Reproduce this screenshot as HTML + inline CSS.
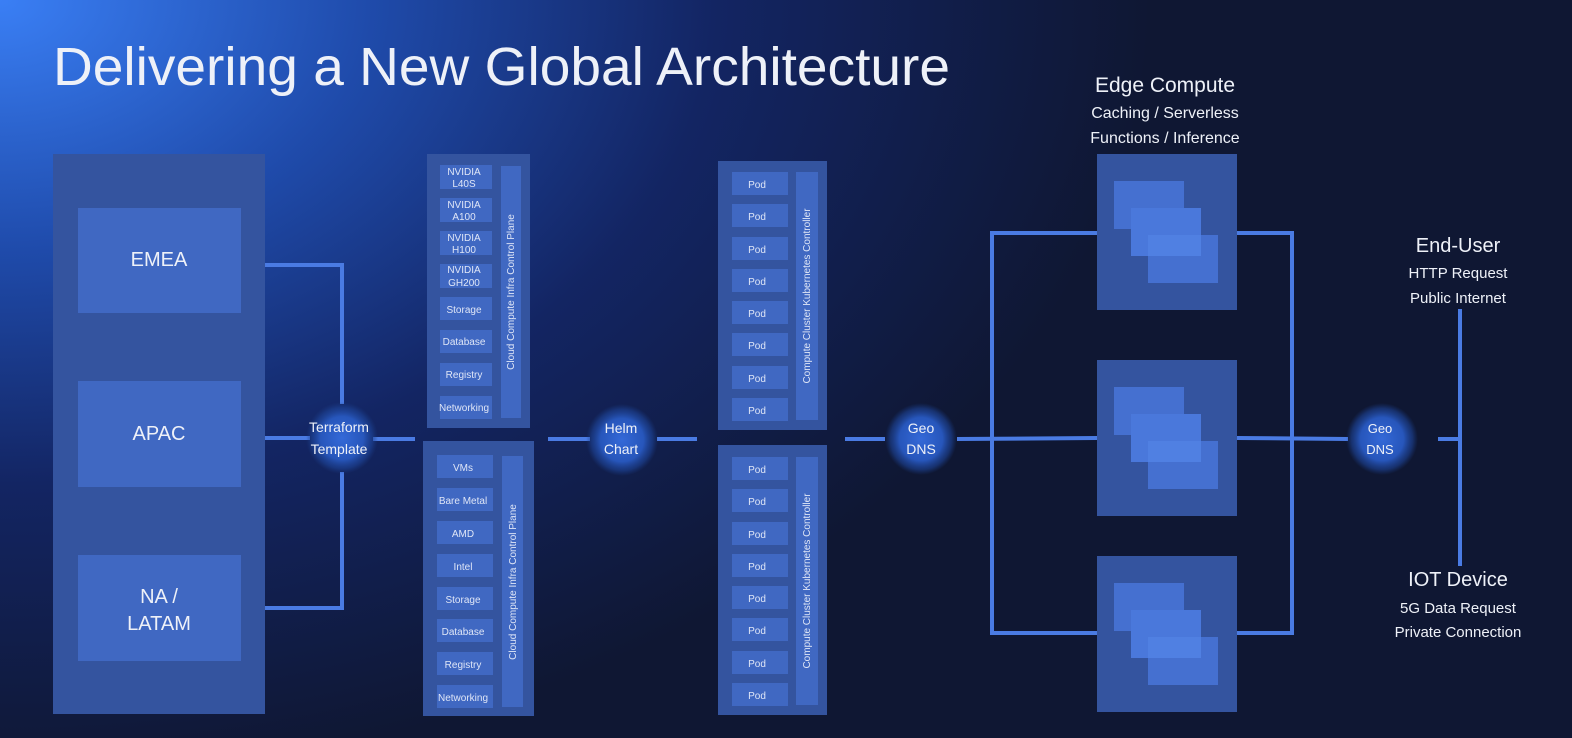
<!DOCTYPE html>
<html><head><meta charset="utf-8"><style>
html,body{margin:0;padding:0;width:1572px;height:738px;overflow:hidden;background:#0f1733}
svg{display:block}
text{font-family:"Liberation Sans",sans-serif;fill:#eef1f8}
.s{font-size:10px;fill:#dfe6f7;text-anchor:middle}
</style></head><body>
<svg width="1572" height="738" viewBox="0 0 1572 738" xmlns="http://www.w3.org/2000/svg">
<defs>
<radialGradient id="bg" cx="0" cy="0" r="1" gradientUnits="userSpaceOnUse" gradientTransform="translate(0,0) scale(1150,780)">
<stop offset="0" stop-color="#3a7ff5"/><stop offset="0.32" stop-color="#1f4bab"/><stop offset="0.62" stop-color="#132563"/><stop offset="1" stop-color="#0f1733"/>
</radialGradient>
<radialGradient id="c"><stop offset="0" stop-color="#3469d8"/><stop offset="0.6" stop-color="#2756bb"/><stop offset="0.85" stop-color="#1d4396" stop-opacity="0.6"/><stop offset="1" stop-color="#1a3c85" stop-opacity="0"/></radialGradient>
</defs>
<rect width="1572" height="738" fill="url(#bg)"/>
<text x="53" y="85" font-size="54" textLength="897" lengthAdjust="spacingAndGlyphs" fill="#fff">Delivering a New Global Architecture</text>

<!-- left -->
<rect x="53" y="154" width="212" height="560" fill="#34549f"/>
<rect x="78" y="208" width="163" height="105" fill="#4068c2"/>
<rect x="78" y="381" width="163" height="106" fill="#4068c2"/>
<rect x="78" y="555" width="163" height="106" fill="#4068c2"/>
<text x="159" y="266" font-size="20" text-anchor="middle">EMEA</text>
<text x="159" y="440" font-size="20" text-anchor="middle">APAC</text>
<text x="159" y="603" font-size="20" text-anchor="middle">NA /</text>
<text x="159" y="630" font-size="20" text-anchor="middle">LATAM</text>

<g stroke="#4a7be3" stroke-width="4" fill="none">
<polyline points="265,265 342,265 342,404"/>
<polyline points="342,472 342,608 265,608"/>
<line x1="265" y1="438" x2="310" y2="438"/>
<line x1="373" y1="439" x2="415" y2="439"/>
<line x1="548" y1="439" x2="590" y2="439"/>
<line x1="657" y1="439" x2="697" y2="439"/>
<line x1="845" y1="439" x2="885" y2="439"/>
<line x1="957" y1="439" x2="1097" y2="438"/>
<polyline points="1097,233 992,233 992,633 1097,633"/>
<polyline points="1237,233 1292,233 1292,633 1237,633"/>
<line x1="1237" y1="438" x2="1348" y2="439"/>
<line x1="1438" y1="439" x2="1458" y2="439"/>
<line x1="1460" y1="309" x2="1460" y2="566"/>
</g>

<circle cx="342" cy="438" r="36" fill="url(#c)"/>
<text x="339" y="432" font-size="14" text-anchor="middle">Terraform</text>
<text x="339" y="454" font-size="14" text-anchor="middle">Template</text>
<circle cx="622" cy="440" r="36" fill="url(#c)"/>
<text x="621" y="433" font-size="14" text-anchor="middle">Helm</text>
<text x="621" y="454" font-size="14" text-anchor="middle">Chart</text>
<circle cx="921" cy="439" r="36" fill="url(#c)"/>
<text x="921" y="433" font-size="14" text-anchor="middle">Geo</text>
<text x="921" y="454" font-size="14" text-anchor="middle">DNS</text>
<circle cx="1382" cy="439" r="36" fill="url(#c)"/>
<text x="1380" y="433" font-size="13" text-anchor="middle">Geo</text>
<text x="1380" y="454" font-size="13" text-anchor="middle">DNS</text>

<!-- top cloud -->
<rect x="427" y="154" width="103" height="274" fill="#34549f"/>
<g fill="#4068c2">
<rect x="440" y="165" width="52" height="24"/><rect x="440" y="198" width="52" height="24"/>
<rect x="440" y="231" width="52" height="24"/><rect x="440" y="264" width="52" height="24"/>
<rect x="440" y="297" width="52" height="23"/><rect x="440" y="330" width="52" height="23"/>
<rect x="440" y="363" width="52" height="23"/><rect x="440" y="396" width="52" height="23"/>
<rect x="501" y="166" width="20" height="252"/>
</g>
<text class="s" x="464" y="175" font-size="9">NVIDIA</text><text class="s" x="464" y="187" font-size="9">L40S</text>
<text class="s" x="464" y="208" font-size="9">NVIDIA</text><text class="s" x="464" y="220" font-size="9">A100</text>
<text class="s" x="464" y="241" font-size="9">NVIDIA</text><text class="s" x="464" y="253" font-size="9">H100</text>
<text class="s" x="464" y="273" font-size="9">NVIDIA</text><text class="s" x="464" y="286" font-size="9">GH200</text>
<text class="s" x="464" y="313">Storage</text>
<text class="s" x="464" y="345">Database</text>
<text class="s" x="464" y="378">Registry</text>
<text class="s" x="464" y="411">Networking</text>
<text class="s" transform="translate(514,292) rotate(-90)">Cloud Compute Infra Control Plane</text>

<!-- bottom cloud -->
<rect x="423" y="441" width="111" height="275" fill="#34549f"/>
<g fill="#4068c2">
<rect x="437" y="455" width="56" height="23"/><rect x="437" y="488" width="56" height="23"/>
<rect x="437" y="521" width="56" height="23"/><rect x="437" y="554" width="56" height="23"/>
<rect x="437" y="587" width="56" height="23"/><rect x="437" y="619" width="56" height="23"/>
<rect x="437" y="652" width="56" height="23"/><rect x="437" y="685" width="56" height="23"/>
<rect x="502" y="456" width="21" height="251"/>
</g>
<text class="s" x="463" y="471">VMs</text>
<text class="s" x="463" y="504">Bare Metal</text>
<text class="s" x="463" y="537">AMD</text>
<text class="s" x="463" y="570">Intel</text>
<text class="s" x="463" y="603">Storage</text>
<text class="s" x="463" y="635">Database</text>
<text class="s" x="463" y="668">Registry</text>
<text class="s" x="463" y="701">Networking</text>
<text class="s" transform="translate(516,582) rotate(-90)">Cloud Compute Infra Control Plane</text>

<!-- pods top -->
<rect x="718" y="161" width="109" height="269" fill="#34549f"/>
<g fill="#4068c2">
<rect x="732" y="172" width="56" height="23"/><rect x="732" y="204" width="56" height="23"/>
<rect x="732" y="237" width="56" height="23"/><rect x="732" y="269" width="56" height="23"/>
<rect x="732" y="301" width="56" height="23"/><rect x="732" y="333" width="56" height="23"/>
<rect x="732" y="366" width="56" height="23"/><rect x="732" y="398" width="56" height="23"/>
<rect x="796" y="172" width="22" height="248"/>
</g>
<text class="s" x="757" y="188">Pod</text><text class="s" x="757" y="220">Pod</text>
<text class="s" x="757" y="253">Pod</text><text class="s" x="757" y="285">Pod</text>
<text class="s" x="757" y="317">Pod</text><text class="s" x="757" y="349">Pod</text>
<text class="s" x="757" y="382">Pod</text><text class="s" x="757" y="414">Pod</text>
<text class="s" transform="translate(810,296) rotate(-90)">Compute Cluster  Kubernetes Controller</text>

<!-- pods bottom -->
<rect x="718" y="445" width="109" height="270" fill="#34549f"/>
<g fill="#4068c2">
<rect x="732" y="457" width="56" height="23"/><rect x="732" y="489" width="56" height="23"/>
<rect x="732" y="522" width="56" height="23"/><rect x="732" y="554" width="56" height="23"/>
<rect x="732" y="586" width="56" height="23"/><rect x="732" y="618" width="56" height="23"/>
<rect x="732" y="651" width="56" height="23"/><rect x="732" y="683" width="56" height="23"/>
<rect x="796" y="457" width="22" height="248"/>
</g>
<text class="s" x="757" y="473">Pod</text><text class="s" x="757" y="505">Pod</text>
<text class="s" x="757" y="538">Pod</text><text class="s" x="757" y="570">Pod</text>
<text class="s" x="757" y="602">Pod</text><text class="s" x="757" y="634">Pod</text>
<text class="s" x="757" y="667">Pod</text><text class="s" x="757" y="699">Pod</text>
<text class="s" transform="translate(810,581) rotate(-90)">Compute Cluster  Kubernetes Controller</text>

<!-- edge boxes -->
<g>
<rect x="1097" y="154" width="140" height="156" fill="#34549f"/>
<rect x="1114" y="181" width="70" height="48" fill="#4570d0"/>
<rect x="1131" y="208" width="70" height="48" fill="#4a78db"/>
<rect x="1148" y="235" width="70" height="48" fill="#4570d0"/>
<rect x="1148" y="235" width="53" height="21" fill="#5080e2"/>
</g>
<g transform="translate(0,206)">
<rect x="1097" y="154" width="140" height="156" fill="#34549f"/>
<rect x="1114" y="181" width="70" height="48" fill="#4570d0"/>
<rect x="1131" y="208" width="70" height="48" fill="#4a78db"/>
<rect x="1148" y="235" width="70" height="48" fill="#4570d0"/>
<rect x="1148" y="235" width="53" height="21" fill="#5080e2"/>
</g>
<g transform="translate(0,402)">
<rect x="1097" y="154" width="140" height="156" fill="#34549f"/>
<rect x="1114" y="181" width="70" height="48" fill="#4570d0"/>
<rect x="1131" y="208" width="70" height="48" fill="#4a78db"/>
<rect x="1148" y="235" width="70" height="48" fill="#4570d0"/>
<rect x="1148" y="235" width="53" height="21" fill="#5080e2"/>
</g>

<text x="1165" y="92" font-size="21" text-anchor="middle">Edge Compute</text>
<text x="1165" y="118" font-size="16" text-anchor="middle" fill="#e6ebf7">Caching / Serverless</text>
<text x="1165" y="143" font-size="16" text-anchor="middle" fill="#e6ebf7">Functions / Inference</text>

<text x="1458" y="252" font-size="20" text-anchor="middle">End-User</text>
<text x="1458" y="278" font-size="15" text-anchor="middle" fill="#e6ebf7">HTTP Request</text>
<text x="1458" y="303" font-size="15" text-anchor="middle" fill="#e6ebf7">Public Internet</text>
<text x="1458" y="586" font-size="20" text-anchor="middle">IOT Device</text>
<text x="1458" y="613" font-size="15" text-anchor="middle" fill="#e6ebf7">5G Data Request</text>
<text x="1458" y="637" font-size="15" text-anchor="middle" fill="#e6ebf7">Private Connection</text>
</svg>
</body></html>
